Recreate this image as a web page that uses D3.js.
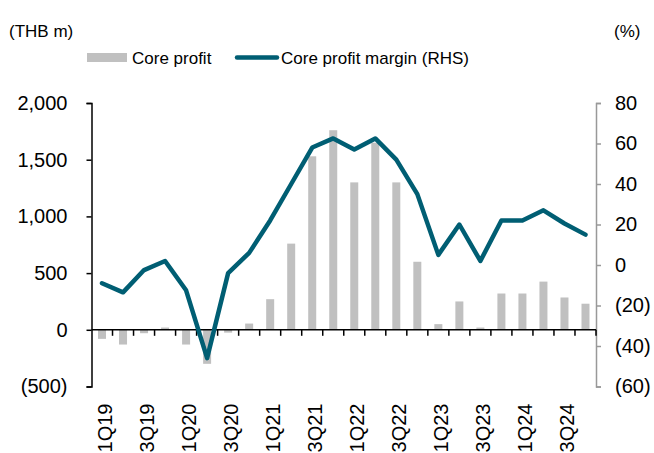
<!DOCTYPE html>
<html>
<head>
<meta charset="utf-8">
<script src="https://cdn.jsdelivr.net/npm/d3@7"></script>
<style>
  body { margin: 0; background: #fff; }
  svg { font-family: "Liberation Sans", Arial, sans-serif; }
  text { fill: #000; }
</style>
</head>
<body>
<script>
var quarters = ['1Q19','2Q19','3Q19','4Q19','1Q20','2Q20','3Q20','4Q20',
                '1Q21','2Q21','3Q21','4Q21','1Q22','2Q22','3Q22','4Q22',
                '1Q23','2Q23','3Q23','4Q23','1Q24','2Q24','3Q24','4Q24'];
var coreProfit = [-80, -130, -30, 20, -130, -300, -25, 55,
                  270, 760, 1530, 1760, 1300, 1650, 1300, 600,
                  50, 250, 20, 320, 320, 425, 285, 230];
var coreMargin = [-9, -13.5, -2.5, 2, -12.5, -46, -4, 6,
                  22, 40, 58, 62.5, 57, 62.5, 52, 35,
                  5, 20, 2, 22, 22, 27, 20.5, 15];
var leftTicks = [-500, 0, 500, 1000, 1500, 2000];
var rightTicks = [-60, -40, -20, 0, 20, 40, 60, 80];
var seriesNames = ['Core profit', 'Core profit margin (RHS)'];

var width = 654, height = 453,
    plotL = 91.5, plotR = 596, plotT = 103, plotB = 386.5,
    tickFont = 20,
    legendFont = 17,
    barColor = '#c0c0c0',
    lineColor = '#005e73';

var fmt = function(v) {
    var s = d3.format(',')(Math.abs(v));
    return v < 0 ? '(' + s + ')' : s;
};

var svg = d3.select('body').append('svg')
    .attr('width', width)
    .attr('height', height);

var xScale = d3.scaleBand()
        .domain(quarters)
        .range([plotL, plotR])
        .paddingInner(0),
    yLeft = d3.scaleLinear().domain([-500, 2000]).range([plotB, plotT]),
    yRight = d3.scaleLinear().domain([-60, 80]).range([plotB, plotT]);

// bars
var barW = 8;
svg.append('g').selectAll('rect')
    .data(coreProfit)
    .enter()
    .append('rect')
    .attr('x', function(d, i) { return xScale(quarters[i]) + xScale.bandwidth() / 2 - barW / 2; })
    .attr('y', function(d) { return yLeft(Math.max(0, d)); })
    .attr('width', barW)
    .attr('height', function(d) { return Math.abs(yLeft(d) - yLeft(0)); })
    .attr('fill', barColor);

// left axis
var yl = svg.append('g')
    .attr('transform', 'translate(' + plotL + ',0)')
    .call(d3.axisLeft(yLeft).tickValues(leftTicks).tickFormat(fmt).tickSize(5).tickPadding(19));
yl.select('.domain').attr('stroke', '#000').attr('stroke-width', 1.5);
yl.selectAll('.tick line').attr('stroke', '#000').attr('stroke-width', 1.5);
yl.selectAll('text').style('font-size', tickFont + 'px').attr('fill', '#000');

// right axis
var yr = svg.append('g')
    .attr('transform', 'translate(' + plotR + ',0)')
    .call(d3.axisRight(yRight).tickValues(rightTicks).tickFormat(fmt).tickSize(5).tickPadding(14));
yr.select('.domain').attr('stroke', '#999').attr('stroke-width', 1.5);
yr.selectAll('.tick line').attr('stroke', '#999').attr('stroke-width', 1.5);
yr.selectAll('text').style('font-size', tickFont + 'px').attr('fill', '#000');

// zero line with category ticks
var xAxis = svg.append('g')
    .attr('transform', 'translate(0,' + yLeft(0) + ')');
xAxis.append('line')
    .attr('x1', plotL).attr('x2', plotR)
    .attr('stroke', '#000').attr('stroke-width', 1.5);
xAxis.selectAll('.xtick')
    .data(quarters)
    .enter()
    .append('line')
    .attr('class', 'xtick')
    .attr('x1', function(d) { return xScale(d) + xScale.bandwidth(); })
    .attr('x2', function(d) { return xScale(d) + xScale.bandwidth(); })
    .attr('y1', 0).attr('y2', 6)
    .attr('stroke', '#000').attr('stroke-width', 1.5);

// category labels at bottom
svg.append('g').selectAll('text')
    .data(quarters.filter(function(d, i) { return i % 2 === 0; }))
    .enter()
    .append('text')
    .attr('transform', function(d) {
        return 'translate(' + (xScale(d) + xScale.bandwidth() / 2 + 3) + ',' + (plotB + 17) + ') rotate(-90)';
    })
    .style('text-anchor', 'end')
    .style('font-size', tickFont + 'px')
    .attr('dy', '0.35em')
    .text(function(d) { return d; });

// margin line
var line = d3.line()
    .x(function(d, i) { return xScale(quarters[i]) + xScale.bandwidth() / 2; })
    .y(function(d) { return yRight(d); });
svg.append('path')
    .datum(coreMargin)
    .attr('d', line)
    .attr('fill', 'none')
    .attr('stroke', lineColor)
    .attr('stroke-width', 4.5)
    .attr('stroke-linejoin', 'round')
    .attr('stroke-linecap', 'round');

// unit labels
svg.append('text')
    .attr('x', 9).attr('y', 37)
    .style('font-size', '17px')
    .text('(THB m)');
svg.append('text')
    .attr('x', 614).attr('y', 37)
    .style('font-size', '17px')
    .text('(%)');

// legend
var legend = svg.append('g');
legend.append('rect')
    .attr('x', 87).attr('y', 53)
    .attr('width', 40).attr('height', 9)
    .attr('fill', barColor);
legend.append('text')
    .attr('x', 132).attr('y', 64)
    .style('font-size', legendFont + 'px')
    .text(seriesNames[0]);
legend.append('line')
    .attr('x1', 237).attr('x2', 277)
    .attr('y1', 57.5).attr('y2', 57.5)
    .attr('stroke', lineColor)
    .attr('stroke-width', 4.5)
    .attr('stroke-linecap', 'round');
legend.append('text')
    .attr('x', 281).attr('y', 64)
    .style('font-size', legendFont + 'px')
    .text(seriesNames[1]);
</script>
</body>
</html>
